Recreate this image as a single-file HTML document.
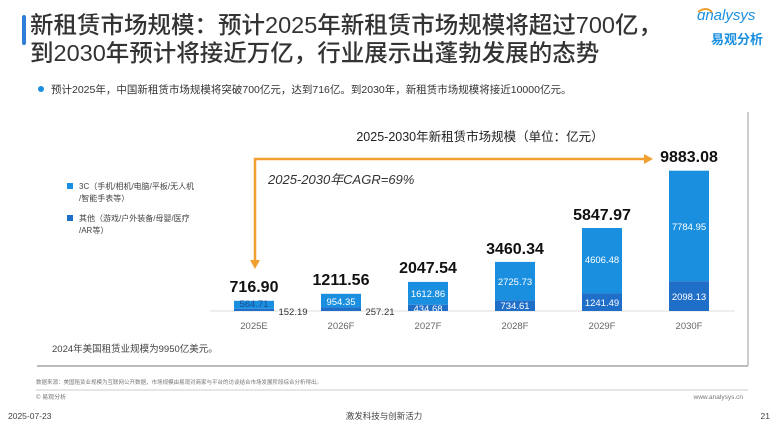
<!DOCTYPE html>
<html><head><meta charset="utf-8"><style>
html,body{margin:0;padding:0;background:#fff;}
body{width:779px;height:426px;overflow:hidden;position:relative;font-family:"Liberation Sans","Noto Sans CJK SC",sans-serif;}
</style></head><body>
<svg width="779" height="426" xmlns="http://www.w3.org/2000/svg" style="position:absolute;left:0;top:0;font-family:'Liberation Sans','Noto Sans CJK SC',sans-serif">
<rect x="22" y="15" width="4" height="30" rx="2" fill="#2f7fd6"/>
<text x="30" y="33" font-size="23.5" fill="#333" font-weight="500">新租赁市场规模：预计2025年新租赁市场规模将超过700亿，</text>
<text x="30" y="61" font-size="23.5" fill="#333" font-weight="500">到2030年预计将接近万亿，行业展示出蓬勃发展的态势</text>
<text x="697" y="20" font-size="15" fill="#1a8fe0" font-style="italic">ɑnalysys</text>
<path d="M698 12 q8 -6 14 0" stroke="#f0a030" stroke-width="2" fill="none"/>
<text x="711" y="44" font-size="13" fill="#1a8fe0" font-weight="bold">易观分析</text>
<circle cx="41" cy="89" r="3" fill="#1a8fe0"/>
<text x="51" y="93" font-size="10.5" fill="#333">预计2025年，中国新租赁市场规模将突破700亿元，达到716亿。到2030年，新租赁市场规模将接近10000亿元。</text>
<line x1="748" y1="112" x2="748" y2="366" stroke="#ccc" stroke-width="2"/>
<line x1="37" y1="366" x2="748" y2="366" stroke="#bbb" stroke-width="2"/>
<text x="480" y="141" font-size="12.5" fill="#222" text-anchor="middle">2025-2030年新租赁市场规模（单位：亿元）</text>
<rect x="67" y="183" width="6" height="6" fill="#1a8fe0"/>
<text x="79" y="189" font-size="8" fill="#444">3C（手机/相机/电脑/平板/无人机</text>
<text x="79" y="201" font-size="8" fill="#444">/智能手表等）</text>
<rect x="67" y="215" width="6" height="6" fill="#1f6ec8"/>
<text x="79" y="221" font-size="8" fill="#444">其他（游戏/户外装备/母婴/医疗</text>
<text x="79" y="233" font-size="8" fill="#444">/AR等）</text>
<path d="M255 264 V159 H645" stroke="#f0a030" stroke-width="2.5" fill="none"/>
<polygon points="644,154 653,159 644,164" fill="#f0a030"/>
<polygon points="250,260 255,269 260,260" fill="#f0a030"/>
<text x="268" y="184" font-size="13" font-style="italic" fill="#333">2025-2030年CAGR=69%</text>
<line x1="210" y1="311" x2="735" y2="311" stroke="#ddd" stroke-width="1"/>
<g font-size="9.5" text-anchor="middle">
<rect x="234" y="300.8" width="40" height="8" fill="#1a8fe0"/><rect x="234" y="308.8" width="40" height="2.2" fill="#1f6ec8"/>
<text x="254" y="307" fill="#1e4f90">564.71</text><text x="293" y="315" fill="#333">152.19</text>
<text x="254" y="292" font-size="16" font-weight="bold" fill="#111">716.90</text>
<text x="254" y="329" fill="#666">2025E</text>
<rect x="321" y="293.8" width="40" height="13.6" fill="#1a8fe0"/><rect x="321" y="307.4" width="40" height="3.6" fill="#1f6ec8"/>
<text x="341" y="305" fill="#fff">954.35</text><text x="380" y="315" fill="#333">257.21</text>
<text x="341" y="285" font-size="16" font-weight="bold" fill="#111">1211.56</text>
<text x="341" y="329" fill="#666">2026F</text>
<rect x="408" y="281.9" width="40" height="22.9" fill="#1a8fe0"/><rect x="408" y="304.8" width="40" height="6.2" fill="#1f6ec8"/>
<text x="428" y="297" fill="#fff">1612.86</text><text x="428" y="312" fill="#fff">434.68</text>
<text x="428" y="273" font-size="16" font-weight="bold" fill="#111">2047.54</text>
<text x="428" y="329" fill="#666">2027F</text>
<rect x="495" y="261.9" width="40" height="38.7" fill="#1a8fe0"/><rect x="495" y="300.6" width="40" height="10.4" fill="#1f6ec8"/>
<text x="515" y="285" fill="#fff">2725.73</text><text x="515" y="309" fill="#fff">734.61</text>
<text x="515" y="254" font-size="16" font-weight="bold" fill="#111">3460.34</text>
<text x="515" y="329" fill="#666">2028F</text>
<rect x="582" y="228" width="40" height="65.4" fill="#1a8fe0"/><rect x="582" y="293.4" width="40" height="17.6" fill="#1f6ec8"/>
<text x="602" y="263" fill="#fff">4606.48</text><text x="602" y="306" fill="#fff">1241.49</text>
<text x="602" y="220" font-size="16" font-weight="bold" fill="#111">5847.97</text>
<text x="602" y="329" fill="#666">2029F</text>
<rect x="669" y="170.7" width="40" height="110.5" fill="#1a8fe0"/><rect x="669" y="281.2" width="40" height="29.8" fill="#1f6ec8"/>
<text x="689" y="230" fill="#fff">7784.95</text><text x="689" y="300" fill="#fff">2098.13</text>
<text x="689" y="162" font-size="16" font-weight="bold" fill="#111">9883.08</text>
<text x="689" y="329" fill="#666">2030F</text>
</g>
<text x="52" y="352" font-size="9.5" fill="#444">2024年美国租赁业规模为9950亿美元。</text>
<text x="36" y="384" font-size="5.5" fill="#777">数据来源：美国租赁业规模为互联网公开数据，市场规模由易观对商家与平台的访谈结合市场发展阶段综合分析得出。</text>
<line x1="36" y1="390" x2="748" y2="390" stroke="#ccc" stroke-width="1"/>
<text x="36" y="399" font-size="6" fill="#777">© 易观分析</text>
<text x="743" y="399" font-size="6.5" fill="#777" text-anchor="end">www.analysys.cn</text>
<text x="8" y="419" font-size="8.5" fill="#444">2025-07-23</text>
<text x="384" y="419" font-size="8.5" fill="#444" text-anchor="middle">激发科技与创新活力</text>
<text x="770" y="419" font-size="8.5" fill="#444" text-anchor="end">21</text>
</svg>
</body></html>
